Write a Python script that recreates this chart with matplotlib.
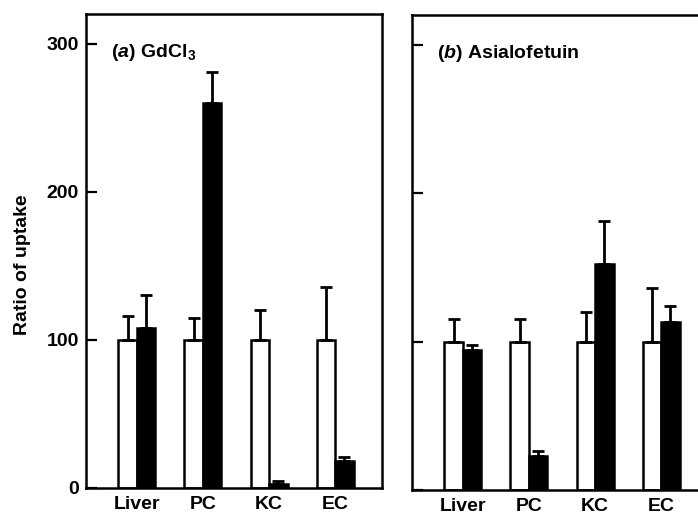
import matplotlib
matplotlib.use('Agg')
import matplotlib.pyplot as plt
import numpy as np

plt.rcParams['font.family'] = ['Liberation Sans', 'DejaVu Sans']
plt.rcParams['font.weight'] = 'bold'
plt.rcParams['mathtext.fontset'] = 'custom'
plt.rcParams['mathtext.rm'] = 'Liberation Sans:bold'
plt.rcParams['mathtext.it'] = 'Liberation Sans:italic:bold'
plt.rcParams['mathtext.bf'] = 'Liberation Sans:bold'

# data
cells = ['Liver', 'PC', 'KC', 'EC']
gd_control = [100, 100, 100, 100]
gd_control_err = [16, 15, 20, 36]
gd_treated = [108, 260, 3, 18]
gd_treated_err = [22, 21, 2, 3]
asf_control = [100, 100, 100, 100]
asf_control_err = [15, 15, 20, 36]
asf_treated = [94, 23, 152, 113]
asf_treated_err = [4, 3, 29, 11]
yticks = [0, 100, 200, 300]
panel_titles = [r'($\it{a}$) GdCl$_3$', r'($\it{b}$) Asialofetuin']

fig = plt.figure(figsize=(6.98, 5.16), dpi=100)
ax1 = fig.add_axes([86/698, 28/516, 296/698, 474/516])
ax2 = fig.add_axes([412/698, 26/516, 296/698, 475/516])

x = np.arange(len(cells))
w = 0.28
err_kw = dict(elinewidth=2.0, capsize=4, capthick=2.0, ecolor='black')

panels = [(ax1, gd_control, gd_control_err, gd_treated, gd_treated_err),
          (ax2, asf_control, asf_control_err, asf_treated, asf_treated_err)]

for i, (ax, c, ce, t, te) in enumerate(panels):
    ax.bar(x - w/2, c, w, color='white', edgecolor='black', linewidth=1.8,
           yerr=[np.zeros(4), ce], error_kw=err_kw, zorder=2)
    ax.bar(x + w/2, t, w, color='black', edgecolor='black', linewidth=1.8,
           yerr=[np.zeros(4), te], error_kw=err_kw, zorder=2)
    ax.set_xlim(-0.77, 3.71)
    ax.set_ylim(0, 320)
    ax.set_yticks(yticks)
    ax.set_xticks(x)
    ax.set_xticklabels(cells, fontsize=14)
    ax.tick_params(axis='x', length=0, pad=6)
    ax.tick_params(axis='y', direction='in', length=8, width=1.6, pad=5, labelsize=14)
    for s in ax.spines.values():
        s.set_linewidth(1.8)
    ax.text(0.085, 0.918, panel_titles[i], transform=ax.transAxes, fontsize=14,
            va='center', ha='left')

ax2.set_yticklabels([])
fig.text(23/698, 1 - 265/516, 'Ratio of uptake', rotation=90, fontsize=14,
         va='center', ha='center')

fig.savefig('out.png', dpi=100)
